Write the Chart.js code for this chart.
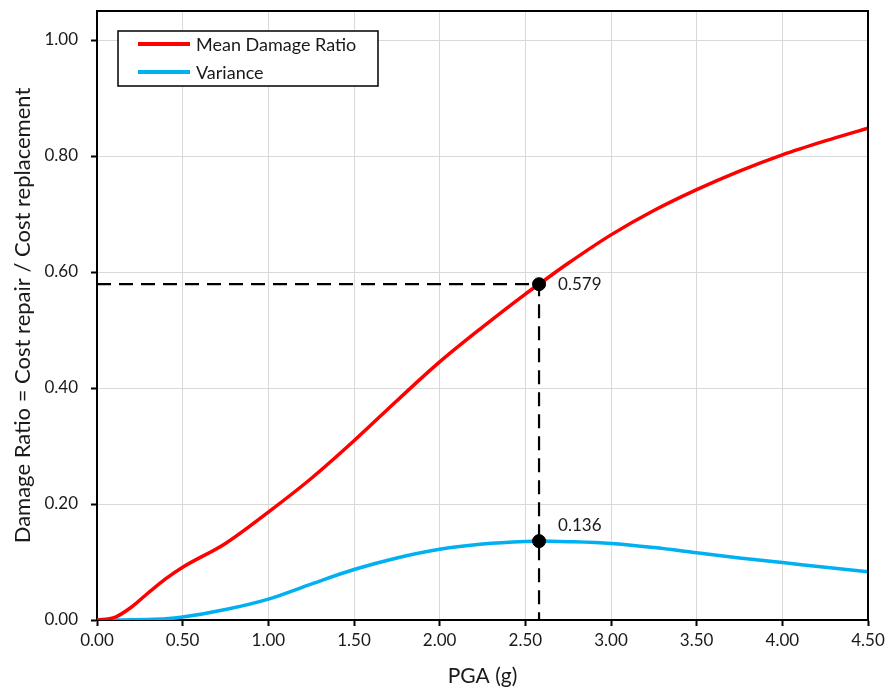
<!DOCTYPE html>
<html>
<head>
<meta charset="utf-8">
<script src="https://cdn.jsdelivr.net/npm/chart.js@4.4.1/dist/chart.umd.min.js"></script>
<style>
  html, body { margin: 0; padding: 0; background: #fff; }
  #wrap { width: 890px; height: 691px; position: relative; }
</style>
</head>
<body>
<div id="wrap"><canvas id="drChart" width="890" height="691"></canvas></div>
<script>
// PGA grid (g) shared by both curves
const pga = [0, 0.1, 0.2, 0.3, 0.4, 0.5, 0.75, 1.0, 1.25, 1.5, 1.75, 2.0, 2.25, 2.5, 2.58, 2.75, 3.0, 3.25, 3.5, 3.75, 4.0, 4.25, 4.5]
const meanDamage = [0, 0.004, 0.022, 0.047, 0.071, 0.091, 0.132, 0.186, 0.244, 0.309, 0.378, 0.445, 0.505, 0.562, 0.579, 0.615, 0.664, 0.706, 0.742, 0.774, 0.802, 0.826, 0.848]
const variance = [0, 0, 0.0003, 0.001, 0.002, 0.005, 0.018, 0.036, 0.062, 0.087, 0.107, 0.122, 0.131, 0.1355, 0.136, 0.135, 0.132, 0.125, 0.116, 0.107, 0.099, 0.091, 0.083]

// design point
const markPga = 2.58
const markMean = 0.579
const markVar = 0.136

const xTicks = [0, 0.5, 1.0, 1.5, 2.0, 2.5, 3.0, 3.5, 4.0, 4.5]
const yTicks = [0, 0.2, 0.4, 0.6, 0.8, 1.0]

const FONT = 'Lato, "Liberation Sans", sans-serif'
const TXT = '#1a1a1a'

function toPoints(xs, ys) {
  return xs.map((x, i) => ({x: x, y: ys[i]}))
}

// black frame around the plot area (top and right sides)
const frame = {
  id: 'frame',
  afterDatasetsDraw(chart) {
    const a = chart.chartArea
    const ctx = chart.ctx
    ctx.save()
    ctx.strokeStyle = '#000'
    ctx.lineWidth = 2
    ctx.beginPath()
    ctx.moveTo(a.left, a.top)
    ctx.lineTo(a.right, a.top)
    ctx.lineTo(a.right, a.bottom)
    ctx.stroke()
    ctx.restore()
  }
}

// value text next to the marked points
const markLabels = {
  id: 'markLabels',
  afterDatasetsDraw(chart) {
    const meta = chart.getDatasetMeta(2)
    const ctx = chart.ctx
    ctx.save()
    ctx.font = '17px ' + FONT
    ctx.fillStyle = TXT
    ctx.textBaseline = 'middle'
    ctx.textAlign = 'left'
    meta.data.forEach((pt, i) => {
      const v = chart.data.datasets[2].data[i].y
      const dy = i === 0 ? 0 : -16
      ctx.fillText(v.toFixed(3), pt.x + 19, pt.y + dy)
    })
    ctx.restore()
  }
}

// boxed legend inside the plot
const boxLegend = {
  id: 'boxLegend',
  afterDraw(chart) {
    const ctx = chart.ctx
    const a = chart.chartArea
    const x0 = a.left + 21, y0 = a.top + 20, w = 260, h = 55
    ctx.save()
    ctx.fillStyle = '#fff'
    ctx.fillRect(x0, y0, w, h)
    ctx.strokeStyle = '#000'
    ctx.lineWidth = 1.5
    ctx.strokeRect(x0, y0, w, h)
    ctx.font = '18px ' + FONT
    ctx.textBaseline = 'middle'
    ;[0, 1].forEach((k, i) => {
      const ds = chart.data.datasets[k]
      const y = y0 + 13 + i * 28
      ctx.strokeStyle = ds.borderColor
      ctx.lineWidth = 4
      ctx.beginPath()
      ctx.moveTo(x0 + 20, y)
      ctx.lineTo(x0 + 72, y)
      ctx.stroke()
      ctx.fillStyle = TXT
      ctx.fillText(ds.label, x0 + 78, y + 1)
    })
    ctx.restore()
  }
}

const ctx = document.getElementById('drChart').getContext('2d')

const drChart = new Chart(ctx, {
  type: 'scatter',
  data: {
    datasets: [
      {
        label: 'Mean Damage Ratio',
        data: toPoints(pga, meanDamage),
        showLine: true,
        borderColor: '#ff0000',
        borderWidth: 3.5,
        pointRadius: 0,
        cubicInterpolationMode: 'monotone',
        order: 1
      },
      {
        label: 'Variance',
        data: toPoints(pga, variance),
        showLine: true,
        borderColor: '#00b0f0',
        borderWidth: 3.5,
        pointRadius: 0,
        cubicInterpolationMode: 'monotone',
        order: 1
      },
      {
        label: 'marks',
        data: [{x: markPga, y: markMean}, {x: markPga, y: markVar}],
        pointRadius: 6.5,
        pointBackgroundColor: '#000',
        pointBorderColor: '#000',
        order: 0
      },
      {
        label: 'guide',
        data: [{x: 0, y: markMean}, {x: markPga, y: markMean}, {x: markPga, y: 0}],
        showLine: true,
        borderColor: '#000',
        borderWidth: 2.2,
        borderDash: [14, 8],
        pointRadius: 0,
        tension: 0,
        order: 2
      }
    ]
  },
  plugins: [frame, markLabels, boxLegend],
  options: {
    responsive: false,
    animation: false,
    events: [],
    layout: { padding: { top: 11, right: 22, left: 0, bottom: 0 } },
    plugins: {
      legend: { display: false },
      tooltip: { enabled: false }
    },
    scales: {
      x: {
        type: 'linear',
        min: 0,
        max: 4.5,
        afterBuildTicks: s => { s.ticks = xTicks.map(v => ({value: v})) },
        afterFit: s => { s.height = 71; s.paddingLeft = 0; s.paddingRight = 0 },
        grid: { color: '#d9d9d9', lineWidth: 1, tickColor: '#000', tickLength: 6, tickWidth: 2 },
        border: { color: '#000', width: 2 },
        ticks: {
          color: TXT,
          font: { family: FONT, size: 17 },
          padding: 4,
          maxRotation: 0,
          callback: v => v.toFixed(2)
        },
        title: {
          display: true,
          text: 'PGA (g)',
          color: TXT,
          font: { family: FONT, size: 21 },
          padding: { top: 0, bottom: 2 }
        }
      },
      y: {
        type: 'linear',
        min: 0,
        max: 1.05,
        afterBuildTicks: s => { s.ticks = yTicks.map(v => ({value: v})) },
        afterFit: s => { s.width = 97; s.paddingTop = 0; s.paddingBottom = 0 },
        grid: { color: '#d9d9d9', lineWidth: 1, tickColor: '#000', tickLength: 6, tickWidth: 2 },
        border: { color: '#000', width: 2 },
        ticks: {
          color: TXT,
          font: { family: FONT, size: 17 },
          padding: 13,
          callback: v => v.toFixed(2)
        },
        title: {
          display: true,
          text: 'Damage Ratio = Cost repair / Cost replacement',
          color: TXT,
          font: { family: FONT, size: 22 },
          padding: { top: 10, bottom: 0 }
        }
      }
    }
  }
})
</script>
</body>
</html>
